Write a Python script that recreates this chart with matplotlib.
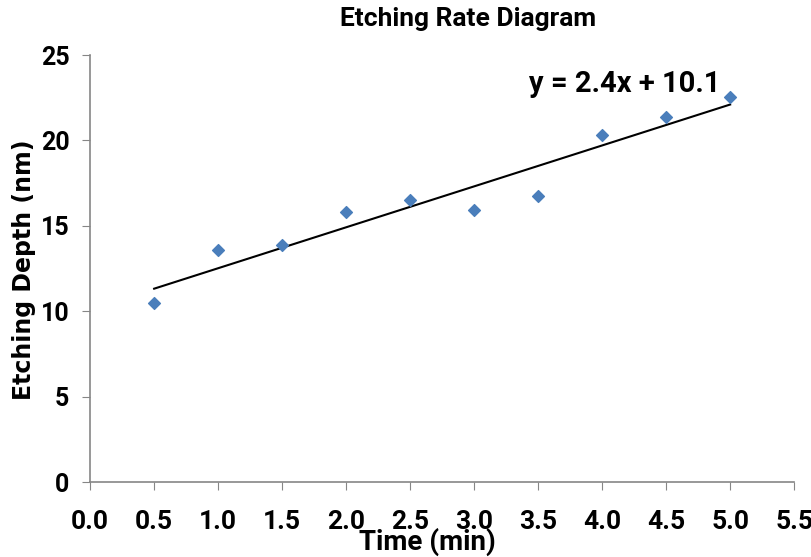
import matplotlib
matplotlib.use("Agg")
import matplotlib.pyplot as plt
import numpy as np

# measured points
time_min = [0.5, 1.0, 1.5, 2.0, 2.5, 3.0, 3.5, 4.0, 4.5, 5.0]
depth_nm = [10.47, 13.58, 13.85, 15.81, 16.51, 15.92, 16.73, 20.34, 21.38, 22.52]
x_ticks = [0.0, 0.5, 1.0, 1.5, 2.0, 2.5, 3.0, 3.5, 4.0, 4.5, 5.0, 5.5]
y_ticks = [0, 5, 10, 15, 20, 25]

plt.rcParams['font.family'] = ['Roboto', 'DejaVu Sans']

fig = plt.figure(figsize=(8.12, 5.57), dpi=100)
ax = fig.add_axes([0.111, 0.1346, 0.867, 0.7666])

ax.scatter(time_min, depth_nm, marker='D', s=36, color='#4A7EBB', zorder=3)

# linear trendline
m, b = np.polyfit(time_min, depth_nm, 1)
xs = np.array([time_min[0], time_min[-1]])
ax.plot(xs, m * xs + b, color='black', lw=1.5, zorder=2)
ax.text(4.18, 23.3, "y = 2.4x + 10.1", fontsize=21, fontweight='bold',
        ha='center', va='center')

ax.set_xlim(0, 5.5)
ax.set_ylim(0, 25)
ax.set_xticks(x_ticks)
ax.set_xticklabels(["%.1f" % v for v in x_ticks])
ax.set_yticks(y_ticks)

for s in ['top', 'right']:
    ax.spines[s].set_visible(False)
for s in ['left', 'bottom']:
    ax.spines[s].set_color('#868686')
    ax.spines[s].set_linewidth(1.2)

ax.tick_params(axis='x', direction='out', length=6, color='#868686',
               labelsize=19, pad=14)
ax.tick_params(axis='y', direction='out', length=6, color='#868686',
               labelsize=18, pad=9)
for lab in ax.get_xticklabels() + ax.get_yticklabels():
    lab.set_fontweight('bold')

fig.text(0.577, 0.965, "Etching Rate Diagram", ha='center', va='center',
         fontsize=19, fontweight='bold')
fig.text(0.526, 0.027, "Time (min)", ha='center', va='center',
         fontsize=20, fontweight='bold')
fig.text(0.03, 0.515, "Etching Depth (nm)", ha='center', va='center',
         rotation=90, fontsize=17, fontweight='bold', family='DejaVu Sans')

fig.savefig("out.png", dpi=100)
